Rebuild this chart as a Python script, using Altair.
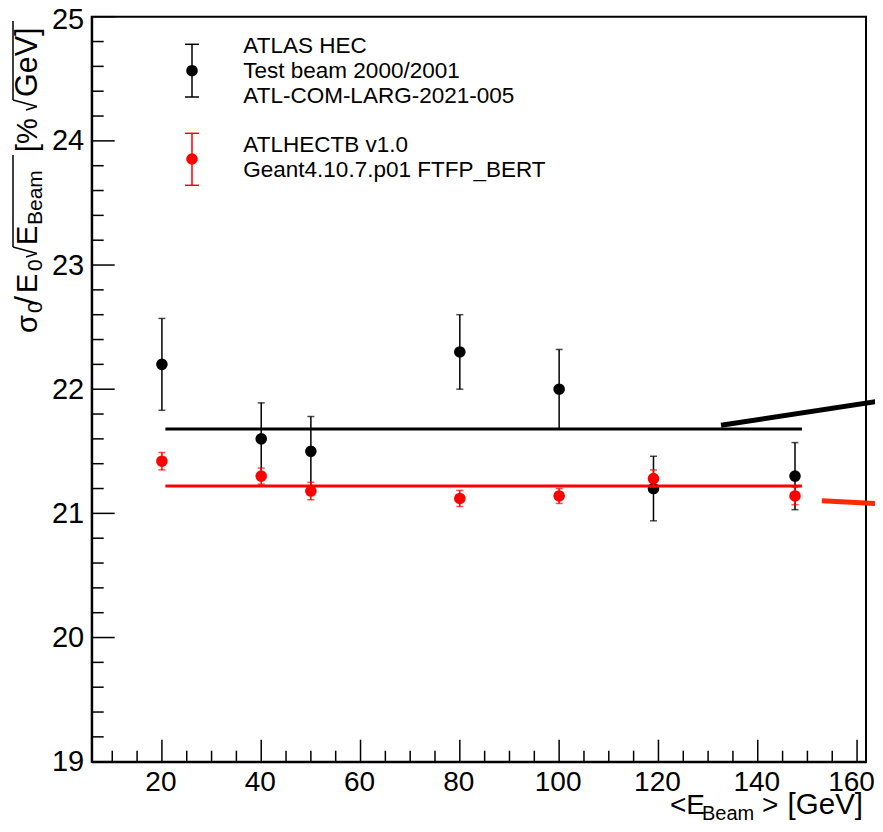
import altair as alt
import pandas as pd
import numpy as np

FONT = "Liberation Sans"

# ---- data ----
energy = [20, 40, 50, 80, 100, 119, 147.5]
data_val = [22.20, 21.60, 21.50, 22.30, 22.00, 21.20, 21.30]
data_err = [0.37, 0.29, 0.28, 0.30, 0.32, 0.26, 0.27]
sim_val = [21.42, 21.30, 21.18, 21.12, 21.14, 21.28, 21.14]
sim_err = [0.07, 0.065, 0.07, 0.065, 0.06, 0.07, 0.07]

fit_x = [20.7, 148.9]
data_fit = [21.68, 21.68]
sim_fit = [21.22, 21.22]

black_slant_x = [132.6, 165.0]
black_slant_y = [21.709, 21.907]
red_slant_x = [152.9, 165.0]
red_slant_y = [21.102, 21.076]

x_domain = [5.86, 161.8]
y_domain = [19, 25]
x_major = [20, 40, 60, 80, 100, 120, 140, 160]
x_minor = [v for v in range(10, 161, 5) if v % 20 != 0]
y_major = [19, 20, 21, 22, 23, 24, 25]
y_minor = [round(19 + 0.2 * i, 1) for i in range(31) if i % 5 != 0]

W, H = 774.3, 745

xs = alt.Scale(domain=x_domain, nice=False, zero=False)
ys = alt.Scale(domain=y_domain, nice=False, zero=False)

AXX = alt.Axis(values=x_major, title=None, grid=False, ticks=False, tickSize=0,
               labelFontSize=28, labelFont=FONT, labelColor="black",
               labelPadding=7, labelFlush=False, labelOverlap=False,
               labelOffset={"condition": {"test": "datum.value == 160", "value": -6}, "value": -1.5},
               domainColor="black", domainWidth=2, format="d")
AXY = alt.Axis(values=y_major, title=None, grid=False, ticks=False, tickSize=0,
               labelFontSize=29, labelFont=FONT, labelColor="black",
               labelPadding=8, labelFlush=False, labelOverlap=False,
               labelOffset={"condition": {"test": "datum.value == 25", "value": 3}, "value": 0},
               domainColor="black", domainWidth=2, format="d")

df_d = pd.DataFrame({"x": energy, "v": data_val,
                     "lo": np.array(data_val) - np.array(data_err),
                     "hi": np.array(data_val) + np.array(data_err)})
df_s = pd.DataFrame({"x": energy, "v": sim_val,
                     "lo": np.array(sim_val) - np.array(sim_err),
                     "hi": np.array(sim_val) + np.array(sim_err)})

X = lambda f="x": alt.X(f"{f}:Q", scale=xs, axis=AXX, title=None)
Y = lambda f="v": alt.Y(f"{f}:Q", scale=ys, axis=AXY, title=None)

# inward ticks
ytick_major = alt.Chart(pd.DataFrame({"v": y_major})).mark_rule(color="black", strokeWidth=1.5).encode(
    y=Y("v"), x=alt.value(0), x2=alt.value(23))
ytick_minor = alt.Chart(pd.DataFrame({"v": y_minor})).mark_rule(color="black", strokeWidth=1.5).encode(
    y=Y("v"), x=alt.value(0), x2=alt.value(12))
xtick_major = alt.Chart(pd.DataFrame({"x": x_major})).mark_rule(color="black", strokeWidth=1.5).encode(
    x=X("x"), y=alt.value(H), y2=alt.value(H - 22))
xtick_minor = alt.Chart(pd.DataFrame({"x": x_minor})).mark_rule(color="black", strokeWidth=1.5).encode(
    x=X("x"), y=alt.value(H), y2=alt.value(H - 11))


def errbars(df, color):
    bar = alt.Chart(df).mark_rule(color=color, strokeWidth=1.5).encode(x=X(), y=Y("lo"), y2=alt.Y2("hi"))
    cap_lo = alt.Chart(df).mark_tick(color=color, orient="horizontal", size=7, thickness=1.5).encode(x=X(), y=Y("lo"))
    cap_hi = alt.Chart(df).mark_tick(color=color, orient="horizontal", size=7, thickness=1.5).encode(x=X(), y=Y("hi"))
    pts = alt.Chart(df).mark_circle(color=color, size=135, opacity=1).encode(x=X(), y=Y("v"))
    return [bar, cap_lo, cap_hi, pts]


fit_d = alt.Chart(pd.DataFrame({"x": fit_x, "v": data_fit})).mark_line(color="black", strokeWidth=3).encode(x=X(), y=Y())
fit_s = alt.Chart(pd.DataFrame({"x": fit_x, "v": sim_fit})).mark_line(color="#ff0000", strokeWidth=3).encode(x=X(), y=Y())
slant_d = alt.Chart(pd.DataFrame({"x": black_slant_x, "v": black_slant_y})).mark_line(
    color="black", strokeWidth=5, clip=False).encode(x=X(), y=Y())
slant_s = alt.Chart(pd.DataFrame({"x": red_slant_x, "v": red_slant_y})).mark_line(
    color="#ff2a00", strokeWidth=5, clip=False).encode(x=X(), y=Y())

one = pd.DataFrame({"a": [0]})


def txt(s, px, py, fs, angle=0, align="left"):
    return alt.Chart(pd.DataFrame({"t": [s]})).mark_text(
        align=align, baseline="alphabetic", angle=angle, fontSize=fs, font=FONT, color="black"
    ).encode(x=alt.value(px), y=alt.value(py), text="t:N")


def seg(px1, py1, px2, py2, color="black", w=1.5):
    return alt.Chart(one).mark_rule(color=color, strokeWidth=w).encode(
        x=alt.value(px1), y=alt.value(py1), x2=alt.value(px2), y2=alt.value(py2))


def dot(px, py, color):
    return alt.Chart(one).mark_circle(color=color, size=135, opacity=1).encode(x=alt.value(px), y=alt.value(py))


# legend
lx = 100.3
legend = [
    seg(lx, 27.6, lx, 80.3), seg(lx - 7, 27.6, lx + 7, 27.6), seg(lx - 7, 80.3, lx + 7, 80.3), dot(lx, 54, "black"),
    seg(lx, 116.6, lx, 168.6, "#ff0000"), seg(lx - 7, 116.6, lx + 7, 116.6, "#ff0000"),
    seg(lx - 7, 168.6, lx + 7, 168.6, "#ff0000"), dot(lx, 142.3, "#ff0000"),
    txt("ATLAS HEC", 151.6, 36.0, 22.5),
    txt("Test beam 2000/2001", 151.6, 61.0, 22.5),
    txt("ATL-COM-LARG-2021-005", 151.6, 86.0, 22.5),
    txt("ATLHECTB v1.0", 151.6, 135.5, 22.5),
    txt("Geant4.10.7.p01 FTFP_BERT", 151.6, 160.5, 22.5),
]

# y title pieces (rotated); page coords minus plot origin (91.7, 16.7)
OX, OY = 91.7, 16.7
bx, sx = 37 - OX, 42 - OX
top_x = 13 - OX


def radical(y0):
    # sqrt sign drawn as strokes, rotated (text runs upward)
    return [
        seg(26 - OX, y0 - OY, 37 - OX, y0 - 3.5 - OY),
        seg(37 - OX, y0 - 3.5 - OY, top_x, y0 - 10 - OY),
    ]


ytitle = [
    txt("σ", bx, 333 - OY, 29, 270),
    txt("0", sx, 313 - OY, 21, 270),
    txt("/", bx, 305 - OY, 32, 270),
    txt("E", bx, 293 - OY, 29, 270),
    txt("0", sx, 271 - OY, 21, 270),
    txt("E", bx, 245 - OY, 29, 270),
    txt("Beam", sx, 225 - OY, 21, 270),
    txt("[%", bx, 152 - OY, 29, 270),
    txt("GeV]", bx, 97 - OY, 30.5, 270),
    seg(top_x, 247 - OY, top_x, 155 - OY),
    seg(top_x, 100 - OY, top_x, 21 - OY),
] + radical(257) + radical(110)

# x title pieces
xtitle = [
    txt("<E", 670 - OX, 814 - OY, 28),
    txt("Beam", 702 - OX, 820 - OY, 20),
    txt(">", 762 - OX, 814 - OY, 28),
    txt("[GeV]", 863 - OX, 814 - OY, 29.5, 0, "right"),
]

layers = [ytick_major, ytick_minor, xtick_major, xtick_minor]
layers += errbars(df_d, "black")
layers += [fit_d, fit_s, slant_d, slant_s]
layers += errbars(df_s, "#ff0000")
layers += legend + ytitle + xtitle

chart = alt.layer(*layers).properties(
    width=W, height=H,
    autosize=alt.AutoSizeParams(type="none"),
    padding={"left": 83.7, "top": 8.7, "right": 9, "bottom": 62.3},
    background="white",
).configure_view(stroke="black", strokeWidth=2)

chart.save("out.html", embed_options={"renderer": "svg", "actions": False})
